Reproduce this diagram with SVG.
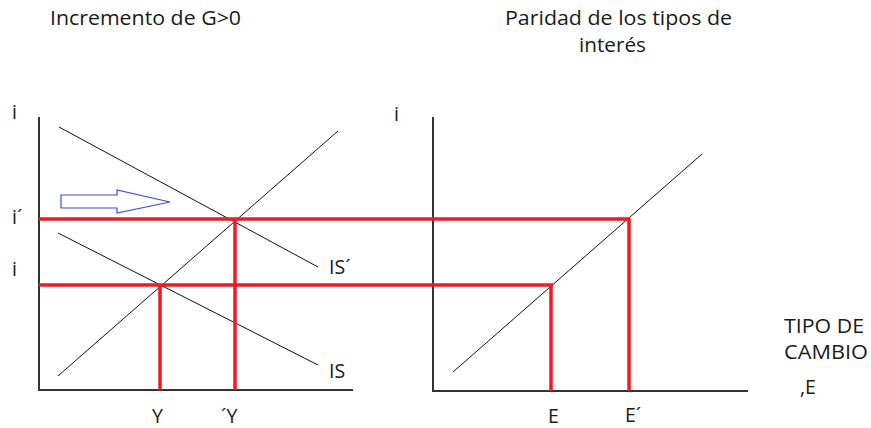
<svg xmlns="http://www.w3.org/2000/svg" width="871" height="428" viewBox="0 0 871 428">
<style>
text{font-family:"Open Sans","Liberation Sans",sans-serif;font-size:19.5px;fill:#1a1a1a}
.axis{stroke:#333;stroke-width:2;fill:none}
.curve{stroke:#111;stroke-width:1;fill:none}
.red{stroke:#ED1C24;stroke-width:3.5;fill:none}
</style>
<rect width="871" height="428" fill="#fff"/>
<g id="titles">
<text x="50" y="25" textLength="191" lengthAdjust="spacingAndGlyphs">Incremento de G&gt;0</text>
<text x="505" y="25" textLength="227" lengthAdjust="spacingAndGlyphs">Paridad de los tipos de</text>
<text x="579" y="52" textLength="67" lengthAdjust="spacingAndGlyphs">interés</text>
</g>
<g id="left-panel">
<line class="axis" x1="39" y1="117" x2="39" y2="391"/>
<line class="axis" x1="38" y1="390" x2="353" y2="390"/>
<line id="IS-prime" class="curve" x1="59" y1="127" x2="318" y2="267"/>
<line id="LM" class="curve" x1="58" y1="376" x2="338" y2="131"/>
<line id="IS" class="curve" x1="58" y1="233" x2="318" y2="365"/>
<polygon id="shift-arrow" points="61,195 117,195 117,190 170,202 117,213 117,208 61,208" fill="none" stroke="#3a4fd0" stroke-width="1.2"/>
<text x="12" y="119">i</text>
<text x="12" y="224">i´</text>
<text x="12" y="276">i</text>
<text x="329" y="274">IS´</text>
<text x="329" y="378">IS</text>
<text x="152" y="423">Y</text>
<text x="221" y="423">´Y</text>
</g>
<g id="right-panel">
<line class="axis" x1="433" y1="117" x2="433" y2="392"/>
<line class="axis" x1="432" y1="391" x2="748" y2="391"/>
<line id="UIP" class="curve" x1="453" y1="372" x2="702" y2="154"/>
<text x="394" y="121">i</text>
<text x="548" y="423">E</text>
<text x="625" y="422">E´</text>
<text x="784" y="333" textLength="80" lengthAdjust="spacingAndGlyphs">TIPO DE</text>
<text x="784" y="359" textLength="84" lengthAdjust="spacingAndGlyphs">CAMBIO</text>
<text x="800" y="394">,E</text>
</g>
<g id="connectors">
<line class="red" x1="39" y1="219" x2="630" y2="219"/>
<line class="red" x1="39" y1="285" x2="553" y2="285"/>
<line class="red" x1="160" y1="284" x2="160" y2="390"/>
<line class="red" x1="235" y1="218" x2="235" y2="390"/>
<line class="red" x1="551" y1="284" x2="551" y2="391"/>
<line class="red" x1="629" y1="218" x2="629" y2="391"/>
</g>
</svg>
